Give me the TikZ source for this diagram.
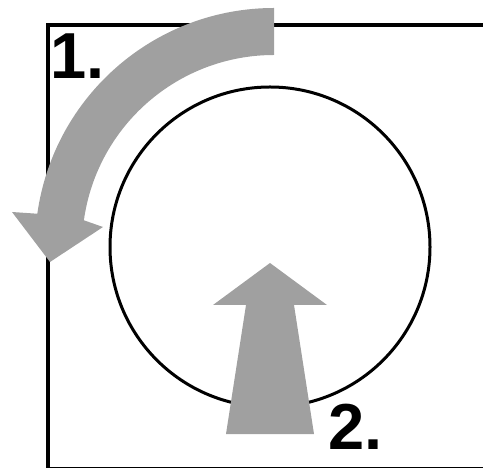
\documentclass[tikz,border=0pt]{standalone}
\usepackage{fontspec}
\setmainfont{Liberation Sans}
\usetikzlibrary{positioning, calc}
\definecolor{arrowgray}{RGB}{160,160,160}

\begin{document}
\begin{tikzpicture}[x=0.2mm, y=0.2mm,
  frameline/.style={line width=3.2*0.2mm, black},
  ringline/.style={line width=3*0.2mm, black},
  bigarrow/.style={fill=arrowgray},
  steplabel/.style={font=\fontsize{37}{37}\selectfont\bfseries, inner sep=0pt, anchor=base west}]
\useasboundingbox (0,0) rectangle (483,467);
\begin{scope}
\clip (0,0) rectangle (483,467);
\draw[frameline] (48,-1.9) rectangle (490,442);
\end{scope}

% Circle
\coordinate (ctr) at (270,220);
\draw[ringline] (ctr) circle (160);

% Curved arrow: concentric arc, counter-clockwise
\coordinate (arcctr) at (274,220);
\fill[bigarrow] ($(arcctr)+(90:239)$) arc[start angle=90, end angle=172, radius=239]
  -- (12,255) -- (50,205) -- (103,240)
  -- ($(arcctr)+(172:192)$) arc[start angle=172, end angle=90, radius=192] -- cycle;

% Straight arrow: tapered shaft
\fill[bigarrow] (226,33) -- (246,162) -- (213,162) -- (270,204)
  -- (327,162) -- (294,162) -- (314,33) -- cycle;

\node[steplabel] (one) at (50,388) {1.};
\node[steplabel] (two) at (328,18) {2.};
\end{tikzpicture}
\end{document}
